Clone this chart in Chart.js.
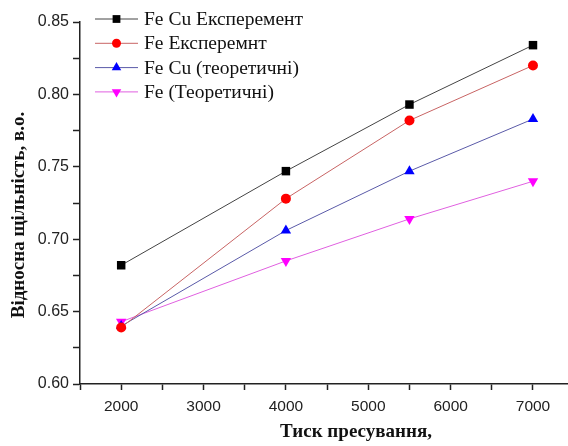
<!DOCTYPE html>
<html>
<head>
<meta charset="utf-8">
<script src="https://cdn.jsdelivr.net/npm/chart.js@4.4.1/dist/chart.umd.min.js"></script>
<style>
html,body{margin:0;padding:0;background:#fff;overflow:hidden;}
#wrap{position:relative;width:568px;height:446px;overflow:hidden;}
</style>
</head>
<body>
<div id="wrap"><canvas id="c" width="574" height="446"></canvas></div>
<script>
const pressures = [2000, 4000, 5500, 7000];
const seriesNames = ["Fe Cu Експеремент", "Fe Експеремнт", "Fe Cu (теоретичні)", "Fe (Теоретичні)"];
const feCuExp = [0.682, 0.747, 0.793, 0.834];
const feExp = [0.639, 0.728, 0.782, 0.820];
const feCuTheor = [0.640, 0.706, 0.747, 0.783];
const feTheor = [0.643, 0.685, 0.714, 0.740];
const xTickValues = [1500, 2000, 2500, 3000, 3500, 4000, 4500, 5000, 5500, 6000, 6500, 7000];
const yTickValues = [0.60, 0.625, 0.65, 0.675, 0.70, 0.725, 0.75, 0.775, 0.80, 0.825, 0.85];
const xTitle = "Тиск пресування,";
const yTitle = "Відносна щільність, в.о.";

const styles = [
  {line:"#444444", fill:"#000000", shape:"rect", radius:6, rot:0},
  {line:"#c86464", fill:"#ff0000", shape:"circle", radius:5, rot:0},
  {line:"#5a5aa8", fill:"#0000ff", shape:"triangle", radius:6, rot:0},
  {line:"#e060e0", fill:"#ff00ff", shape:"triangle", radius:6, rot:180}
];
const values = [feCuExp, feExp, feCuTheor, feTheor];

const datasets = values.map((v, i) => ({
  label: seriesNames[i],
  data: pressures.map((p, j) => ({x: p, y: v[j]})),
  borderColor: styles[i].line,
  borderWidth: 1,
  backgroundColor: styles[i].fill,
  pointBackgroundColor: styles[i].fill,
  pointBorderColor: styles[i].fill,
  pointBorderWidth: 0,
  pointStyle: styles[i].shape,
  pointRadius: styles[i].radius,
  pointRotation: styles[i].rot,
  tension: 0
}));

const isMajorX = v => v >= 2000 && v % 1000 === 0;
const isMajorY = v => Math.abs(Math.round(v * 1000) % 50) === 0;

const overlay = {
  id: 'overlay',
  afterDraw(chart) {
    const ctx = chart.ctx;
    ctx.save();
    // legend
    const x0 = 95, x1 = 138, tx = 144;
    for (let i = 0; i < 4; i++) {
      const y = 19 + i * 24.3;
      ctx.strokeStyle = styles[i].line;
      ctx.lineWidth = 1;
      ctx.beginPath(); ctx.moveTo(x0, y); ctx.lineTo(x1, y); ctx.stroke();
      ctx.fillStyle = styles[i].fill;
      Chart.helpers.drawPoint(ctx, {pointStyle: styles[i].shape, radius: styles[i].radius - 0.5, rotation: styles[i].rot, borderWidth: 0}, (x0 + x1) / 2, y);
      ctx.fillStyle = "#111";
      ctx.font = "19.5px 'Liberation Serif', 'Times New Roman', serif";
      ctx.textBaseline = "middle";
      ctx.textAlign = "left";
      ctx.fillText(seriesNames[i], tx, y + 1);
    }
    // axis titles
    ctx.fillStyle = "#111";
    ctx.font = "bold 19px 'Liberation Serif', 'Times New Roman', serif";
    ctx.textAlign = "center";
    ctx.textBaseline = "middle";
    ctx.fillText(xTitle, 356, 432);
    ctx.translate(19, 215);
    ctx.rotate(-Math.PI / 2);
    ctx.fillText(yTitle, 0, 0);
    ctx.restore();
  }
};

new Chart(document.getElementById('c'), {
  type: 'line',
  data: {datasets},
  options: {
    responsive: false,
    animation: false,
    layout: {padding: {top: 22, right: 0, left: 0, bottom: 0}},
    plugins: {legend: {display: false}, tooltip: {enabled: false}},
    scales: {
      x: {
        type: 'linear',
        min: 1500, max: 7425,
        afterBuildTicks: s => { s.ticks = xTickValues.map(v => ({value: v})); },
        afterFit: s => { s.height = 62; },
        grid: {drawOnChartArea: false, drawTicks: true, tickLength: 6, tickColor: "#222", tickWidth: 1.5},
        border: {display: true, color: "#222", width: 1.5},
        ticks: {
          autoSkip: false, maxRotation: 0, padding: 7,
          color: "#222",
          font: {family: "'Liberation Sans', Arial, sans-serif", size: 15.5},
          callback: v => isMajorX(v) ? String(v) : ''
        }
      },
      y: {
        min: 0.60, max: 0.85,
        afterBuildTicks: s => { s.ticks = yTickValues.map(v => ({value: v})); },
        afterFit: s => { s.width = 80; },
        grid: {drawOnChartArea: false, drawTicks: true, tickLength: 7, tickColor: "#222", tickWidth: 1.5},
        border: {display: true, color: "#222", width: 1.5},
        ticks: {
          autoSkip: false, padding: 4,
          color: "#222",
          font: {family: "'Liberation Sans', Arial, sans-serif", size: 16},
          callback: v => isMajorY(v) ? v.toFixed(2) : ''
        }
      }
    }
  },
  plugins: [overlay]
});
</script>
</body>
</html>
